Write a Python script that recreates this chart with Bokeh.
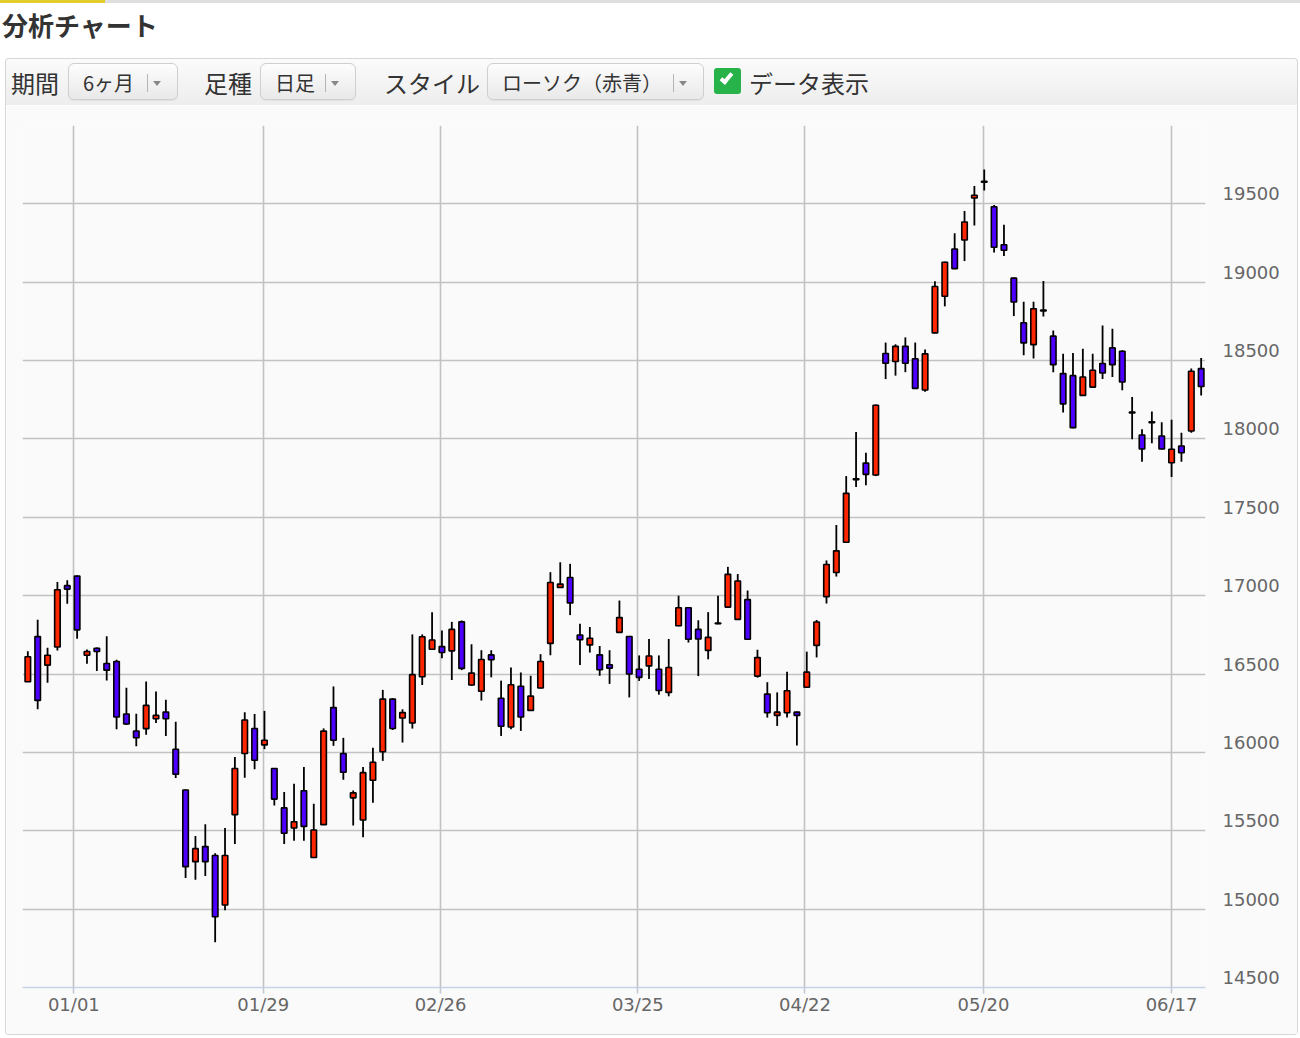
from bokeh.plotting import figure
from bokeh.models import Range1d, FixedTicker, LinearAxis, Grid, Div, ColumnDataSource
from bokeh.layouts import column
from bokeh.embed import file_html
from bokeh.resources import INLINE

# ---------------- data (daily OHLC, 6 months) ----------------
open_ = [16451, 16739, 16557, 16673, 17064, 17125, 16620, 16665, 16567, 16580,
         16245, 16137, 16152, 16215, 16258, 16020, 15760, 15303, 15399, 15342,
         15026, 15603, 15993, 16153, 16048, 15897, 15646, 15518, 15755, 15329,
         15539, 16286, 15993, 15710, 15569, 15822, 16004, 16340, 16220, 16188,
         16483, 16658, 16675, 16648, 16833, 16430, 16390, 16622, 16346, 16162,
         16422, 16268, 16411, 16696, 17053, 17116, 16749, 16686, 16622, 16559,
         16766, 16740, 16531, 16552, 16531, 16383, 16808, 16923, 16785, 16651,
         16826, 16927, 16849, 16975, 16487, 16372, 16236, 16253, 16257, 16416,
         16683, 16994, 17148, 17341, 17746, 17846, 17770, 18545, 18494, 18591,
         18512, 18312, 18677, 18911, 19212, 19269, 19537, 19644, 19482, 19239,
         19026, 18741, 18602, 18823, 18656, 18417, 18404, 18278, 18331, 18481,
         18581, 18560, 18172, 18025, 18110, 18019, 17848, 17955, 18051, 18449]
high = [16646, 16847, 16667, 17087, 17098, 17129, 16656, 16670, 16741, 16591,
        16412, 16247, 16453, 16389, 16336, 16196, 15763, 15467, 15541, 15357,
        15518, 15971, 16256, 16245, 16265, 15900, 15747, 15800, 15907, 15672,
        16153, 16421, 16093, 15757, 15907, 16029, 16399, 16345, 16275, 16753,
        16753, 16894, 16778, 16833, 16842, 16690, 16652, 16652, 16458, 16542,
        16510, 16489, 16627, 17150, 17213, 17203, 16821, 16800, 16679, 16652,
        16969, 16743, 16619, 16724, 16619, 16724, 17000, 16926, 16843, 16895,
        17000, 17184, 17138, 17033, 16655, 16448, 16383, 16514, 16260, 16643,
        16845, 17225, 17451, 17763, 18044, 17912, 18220, 18615, 18604, 18648,
        18615, 18571, 19006, 19131, 19313, 19454, 19614, 19720, 19493, 19366,
        19029, 18876, 18876, 19008, 18692, 18543, 18549, 18575, 18543, 18724,
        18703, 18566, 18267, 18062, 18175, 18107, 18122, 18040, 18449, 18517]
low = [16451, 16275, 16444, 16650, 16949, 16726, 16565, 16519, 16459, 16147,
       16175, 16039, 16113, 16188, 16105, 15836, 15199, 15187, 15212, 14788,
       14993, 15415, 15839, 15892, 16021, 15661, 15415, 15436, 15436, 15329,
       15539, 16042, 15826, 15533, 15458, 15679, 15946, 16143, 16063, 16152,
       16430, 16658, 16601, 16462, 16525, 16425, 16331, 16479, 16105, 16148,
       16137, 16265, 16408, 16620, 17050, 16876, 16557, 16637, 16489, 16437,
       16763, 16351, 16456, 16469, 16368, 16358, 16805, 16701, 16487, 16594,
       16818, 16924, 16846, 16720, 16477, 16222, 16169, 16222, 16044, 16414,
       16606, 16950, 17122, 17338, 17693, 17704, 17763, 18382, 18404, 18426,
       18320, 18301, 18674, 18846, 19084, 19135, 19362, 19586, 19190, 19168,
       18784, 18534, 18513, 18782, 18425, 18169, 18069, 18275, 18328, 18382,
       18395, 18310, 17998, 17854, 17972, 17933, 17758, 17854, 18040, 18278]
close = [16610, 16332, 16620, 17038, 17042, 16782, 16644, 16644, 16525, 16226,
         16181, 16094, 16300, 16236, 16215, 15861, 15271, 15386, 15303, 14951,
         15342, 15897, 16207, 15950, 16078, 15702, 15484, 15558, 15528, 15505,
         16136, 16078, 15873, 15742, 15871, 15937, 16340, 16153, 16254, 16496,
         16738, 16717, 16637, 16785, 16536, 16506, 16593, 16591, 16167, 16432,
         16226, 16359, 16580, 17084, 17074, 16954, 16719, 16728, 16527, 16538,
         16860, 16500, 16479, 16615, 16395, 16542, 16923, 16722, 16724, 16734,
         16822, 17136, 17094, 16722, 16605, 16253, 16257, 16393, 16236, 16512,
         16832, 17199, 17286, 17653, 17740, 17774, 18215, 18483, 18591, 18483,
         18323, 18543, 18973, 19127, 19087, 19384, 19555, 19638, 19223, 19204,
         18874, 18613, 18831, 18817, 18474, 18224, 18072, 18395, 18438, 18421,
         18474, 18363, 18166, 17936, 18104, 17936, 17934, 17912, 18432, 18335]

date_tick_index = [4.67, 23.87, 41.86, 61.87, 78.82, 96.92, 116.0]
date_tick_labels = ["01/01", "01/29", "02/26", "03/25", "04/22", "05/20", "06/17"]
price_grid_ticks = [14500, 15000, 15500, 16000, 16500, 17000, 17500, 18000, 18500, 19000, 19500, 20000]
price_label_ticks = [14500, 15000, 15500, 16000, 16500, 17000, 17500, 18000, 18500, 19000, 19500]

UP = "#ff2600"
DOWN = "#4d00ff"

idx = list(range(len(open_)))
src = ColumnDataSource(dict(
    x=idx, open=open_, high=high, low=low, close=close,
    top=[max(o, c) for o, c in zip(open_, close)],
    bottom=[min(o, c) for o, c in zip(open_, close)],
    color=[UP if c >= o else DOWN for o, c in zip(open_, close)],
))

# ---------------- header (title + controls) ----------------
def dropdown(left, width, label):
    return (
        f'<div style="position:absolute;left:{left}px;top:63px;width:{width}px;height:37px;'
        'border:1px solid #cfcfcf;border-radius:6px;'
        'background:linear-gradient(#fdfdfd,#e9e9e9);box-shadow:0 1px 1px rgba(0,0,0,0.06);">'
        f'<div style="position:absolute;left:14px;top:0;line-height:37px;font-size:20px;color:#333;white-space:nowrap;">{label}</div>'
        f'<div style="position:absolute;right:29px;top:10px;width:1px;height:18px;background:#b5b5b5;"></div>'
        '<div style="position:absolute;right:16px;top:17px;width:0;height:0;border-left:4px solid transparent;'
        'border-right:4px solid transparent;border-top:5px solid #888;"></div>'
        '</div>'
    )

def label(left, text):
    return (f'<div style="position:absolute;left:{left}px;top:63px;line-height:39px;font-size:24px;'
            f'color:#333;white-space:nowrap;">{text}</div>')

header_html = (
    '<div style="position:relative;width:1300px;height:105px;font-family:\'Noto Sans CJK JP\',sans-serif;">'
    '<div style="position:absolute;left:0;top:0;width:1300px;height:3px;background:#dedede;"></div>'
    '<div style="position:absolute;left:0;top:0;width:105px;height:3px;background:#e3cd2c;"></div>'
    '<div style="position:absolute;left:2px;top:10px;font-size:26px;font-weight:bold;line-height:30px;color:#333;white-space:nowrap;">分析チャート</div>'
    '<div style="position:absolute;left:5px;top:58px;width:1293px;height:47px;border:1px solid #d6d6d6;border-bottom:none;'
    'border-radius:4px 4px 0 0;background:linear-gradient(#fbfbfb,#ededed);"></div>'
    + label(11, "期間") + dropdown(68, 110, "6ヶ月")
    + label(204, "足種") + dropdown(260, 96, "日足")
    + label(384, "スタイル") + dropdown(487, 217, "ローソク（赤青）")
    + '<div style="position:absolute;left:714px;top:68px;width:27px;height:26px;border-radius:3px;background:#27b24a;">'
      '<div style="position:absolute;left:9px;top:3px;width:7px;height:13px;border-right:4px solid #fff;'
      'border-bottom:4px solid #fff;transform:rotate(40deg);"></div></div>'
    + label(749, "データ表示")
    + '</div>'
)
header = Div(text=header_html, width=1300, height=105, margin=(0, 0, 0, 0))

# ---------------- chart ----------------
p = figure(width=1293, height=930,
           x_range=Range1d(-0.54, 119.44), y_range=Range1d(14500, 20000),
           y_axis_location=None, output_backend="svg", toolbar_location=None,
           min_border_left=16, min_border_right=94, min_border_top=20, min_border_bottom=48,
           background_fill_color="#fafafa", border_fill_color="#fafafa",
           outline_line_color=None, margin=(0, 0, 0, 5))
p.styles = {"border-left": "1px solid #d6d6d6", "border-right": "1px solid #d6d6d6",
            "border-bottom": "1px solid #d6d6d6", "border-radius": "0 0 4px 4px"}

p.add_layout(Grid(dimension=1, ticker=FixedTicker(ticks=price_grid_ticks),
                  grid_line_color="#c2c2c2", grid_line_width=1.6))

p.xaxis.ticker = FixedTicker(ticks=date_tick_index)
p.xaxis.major_label_overrides = {t: l for t, l in zip(date_tick_index, date_tick_labels)}
p.xaxis.axis_line_color = "#c6d2e8"
p.xaxis.axis_line_width = 1.6
p.xaxis.major_tick_in = 0
p.xaxis.major_tick_out = 6
p.xaxis.major_tick_line_color = "#c4c8d2"
p.xaxis.major_tick_line_width = 1.6
p.xaxis.minor_tick_line_color = None
p.xaxis.major_label_standoff = 0
p.xaxis.major_label_text_font = "DejaVu Sans"
p.xaxis.major_label_text_font_size = "18px"
p.xaxis.major_label_text_color = "#666666"
p.xgrid.grid_line_color = "#c2c2c2"
p.xgrid.grid_line_width = 1.6

# price labels sit ~10px above their grid lines
p.extra_y_ranges = {"lbl": Range1d(14500 - 64, 20000 - 64)}
yax = LinearAxis(y_range_name="lbl", ticker=FixedTicker(ticks=price_label_ticks),
                 axis_line_color=None, major_tick_line_color=None, minor_tick_line_color=None,
                 major_tick_out=0, major_tick_in=0,
                 major_label_standoff=17, major_label_text_font="DejaVu Sans",
                 major_label_text_font_size="18px", major_label_text_color="#666666")
p.add_layout(yax, "right")

p.segment(x0="x", y0="low", x1="x", y1="high", source=src, line_color="black", line_width=1.8)
p.vbar(x="x", width=0.56, top="top", bottom="bottom", source=src,
       fill_color="color", line_color="black", line_width=1.6)

layout = column(header, p)
open("out.html", "w").write(file_html(layout, INLINE))
